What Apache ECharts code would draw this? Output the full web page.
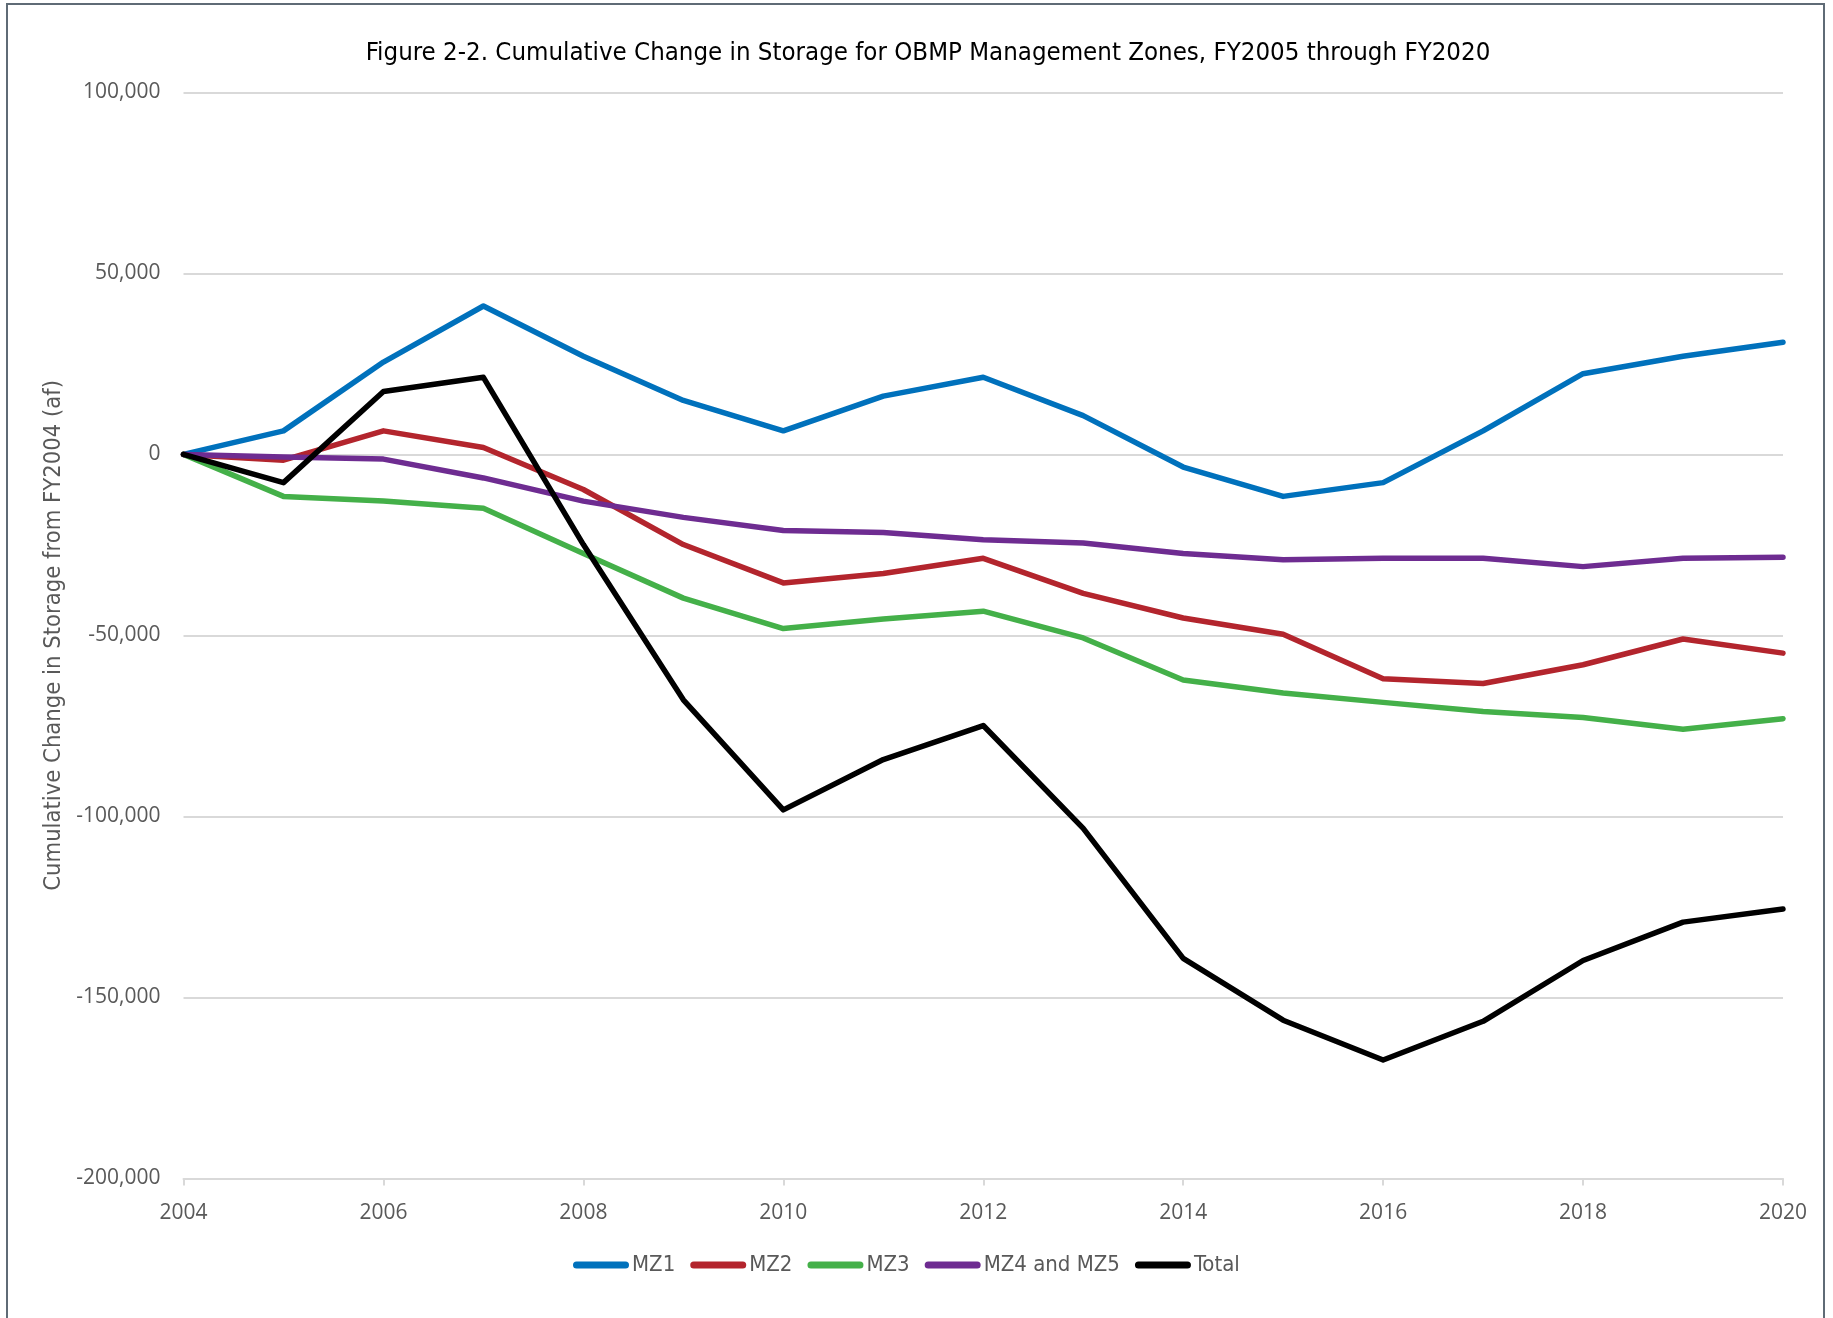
<!DOCTYPE html>
<html>
<head>
<meta charset="utf-8">
<script src="https://cdn.jsdelivr.net/npm/echarts@6/dist/echarts.min.js"></script>
<style>
html,body{margin:0;padding:0;background:#fff;}
#chart{width:1833px;height:1318px;}
</style>
</head>
<body>
<div id="chart"></div>
<script>
const years = [2004,2005,2006,2007,2008,2009,2010,2011,2012,2013,2014,2015,2016,2017,2018,2019,2020];
const mz1 = [0,6500,25500,41000,27100,14900,6500,16100,21300,10700,-3500,-11600,-7800,6500,22300,27100,31000];
const mz2 = [0,-1600,6500,1900,-9700,-24900,-35500,-32900,-28700,-38400,-45200,-49700,-62000,-63300,-58100,-51000,-54900];
const mz3 = [0,-11600,-12900,-14900,-27400,-39700,-48100,-45500,-43300,-50700,-62300,-65900,-68500,-71000,-72700,-75900,-73000];
const mz45 = [0,-700,-1300,-6500,-12900,-17400,-21000,-21600,-23600,-24500,-27400,-29100,-28700,-28700,-31000,-28700,-28400];
const total = [0,-7800,17400,21300,-24900,-67800,-98200,-84300,-74900,-103300,-139200,-156300,-167300,-156600,-139800,-129200,-125600];
const seriesNames = ['MZ1','MZ2','MZ3','MZ4 and MZ5','Total'];
const yTicks = [-200000,-150000,-100000,-50000,0,50000,100000];

const colors = ['#0071BC','#B3252D','#44B049','#6E2C91','#000000'];
const allData = [mz1,mz2,mz3,mz45,total];
const condensed = "'Liberation Sans Narrow','DejaVu Sans Condensed','Roboto Condensed',Roboto,sans-serif";
const pill = 'path://M3.5,0 L52.5,0 A3.5,3.5 0 0 1 52.5,7 L3.5,7 A3.5,3.5 0 0 1 3.5,0 Z';

const chart = echarts.init(document.getElementById('chart'), null, {renderer:'canvas'});
chart.setOption({
  animation:false,
  backgroundColor:'#ffffff',
  color: colors,
  title:{
    text:'Figure 2-2. Cumulative Change in Storage for OBMP Management Zones, FY2005 through FY2020',
    left:923, top:35, textAlign:'center',
    textStyle:{fontFamily:condensed, fontSize:25.6, fontWeight:'normal', color:'#000000'}
  },
  graphic:[{
    type:'rect', shape:{x:7,y:4,width:1817,height:1400},
    style:{fill:'none', stroke:'#5F6B76', lineWidth:2}, silent:true
  }],
  legend:{
    data: seriesNames,
    left:568, top:1249,
    itemWidth:56, itemHeight:7, itemGap:15,
    icon: pill,
    textStyle:{fontFamily:condensed, fontSize:22, color:'#595959', padding:[0,0,0,-2]}
  },
  grid:{left:183.5, right:50, top:92.4, bottom:139.6, containLabel:false},
  xAxis:{
    type:'value', min:2004, max:2020, interval:2,
    axisLine:{show:true, onZero:false, lineStyle:{color:'#D9D9D9', width:2}},
    axisTick:{show:true, length:7, lineStyle:{color:'#D9D9D9', width:2}},
    axisLabel:{color:'#595959', fontFamily:"'Open Sans',sans-serif", fontSize:21, margin:24, formatter: v => String(v)},
    splitLine:{show:false}
  },
  yAxis:{
    type:'value', min:yTicks[0], max:yTicks[yTicks.length-1], interval:50000,
    name:'Cumulative Change in Storage from FY2004 (af)',
    nameLocation:'middle', nameGap:118, nameRotate:90,
    nameTextStyle:{fontFamily:condensed, fontSize:23.6, color:'#595959'},
    axisLine:{show:false}, axisTick:{show:false},
    axisLabel:{color:'#595959', fontFamily:"'Open Sans',sans-serif", fontSize:21, margin:23,
      formatter: v => v.toLocaleString('en-US')},
    splitLine:{lineStyle:{color:'#D9D9D9', width:2}}
  },
  series: seriesNames.map((n,i)=>({
    name:n, type:'line', symbol:'none', showSymbol:false,
    data: years.map((y,j)=>[y, allData[i][j]]),
    lineStyle:{width:5.5, color:colors[i], cap:'round', join:'round'},
    itemStyle:{color:colors[i]},
    z: 2+i
  }))
});
</script>
</body>
</html>
